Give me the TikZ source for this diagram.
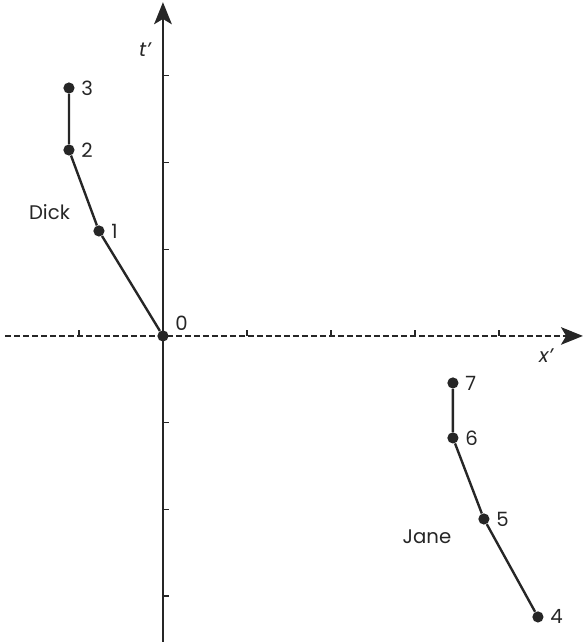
\documentclass[tikz,border=0pt]{standalone}
\usepackage{fontspec}
\setmainfont{Poppins}
\usepackage{tikz}
\usetikzlibrary{arrows.meta,positioning}

\begin{document}
\begin{tikzpicture}[x=2.1cm, y=2.1675cm, every node/.style={font=\fontsize{14}{16}\selectfont, text=black!85}, >={Stealth[length=5.5mm, width=4.4mm, inset=1.3mm]}]
	\useasboundingbox (-1.94,-3.53) rectangle (5.0,3.875);
	% axes
	\coordinate (xl) at (-1.88,0);
	\coordinate (xr) at (5.0,0);
	\coordinate (tb) at (0,-3.53);
	\coordinate (tt) at (0,3.85);
	\draw[black!85, line width=1.1pt, dash pattern=on 4.2pt off 2.2pt, ->] (xl) -- (xr);
	\draw[black!85, line width=1.7pt, ->] (tb) -- (tt);
	\foreach \x in {-1,1,2,3,4} {\draw[black!85, line width=0.9pt] (\x,0) -- (\x,0.065);}
	\foreach \t in {-3,-2,-1,1,2,3} {\draw[black!85, line width=0.9pt] (0,\t) -- (0.075,\t);}
	\node (tlab) at (-0.214,3.30) {\itshape t'};
	\node (xlab) at (4.56,-0.23) {\itshape x'};
	% world lines
	\tikzset{dot/.style={circle, fill=black!85, inner sep=0pt, minimum size=0.28cm}}
	\foreach \n/\p in {0/{(0,0)},1/{(-0.762,1.211)},2/{(-1.119,2.145)},3/{(-1.119,2.86)},4/{(4.464,-3.241)},5/{(3.821,-2.111)},6/{(3.452,-1.176)},7/{(3.452,-0.542)}} {\node[dot] (e\n) at \p {};}
	\draw[black!85, line width=1.7pt] (e0) -- (e1) -- (e2) -- (e3);
	\draw[black!85, line width=1.7pt] (e4) -- (e5) -- (e6) -- (e7);
	\foreach \n in {1,...,7} {\node[right=0.04cm of e\n] (n\n) {\n};}
	\node[above right=-0.08cm and 0.08cm of e0] (n0) {0};
	\node (dick) at (-1.351,1.43) {Dick};
	\node (jane) at (3.143,-2.318) {Jane};
\end{tikzpicture}
\end{document}
